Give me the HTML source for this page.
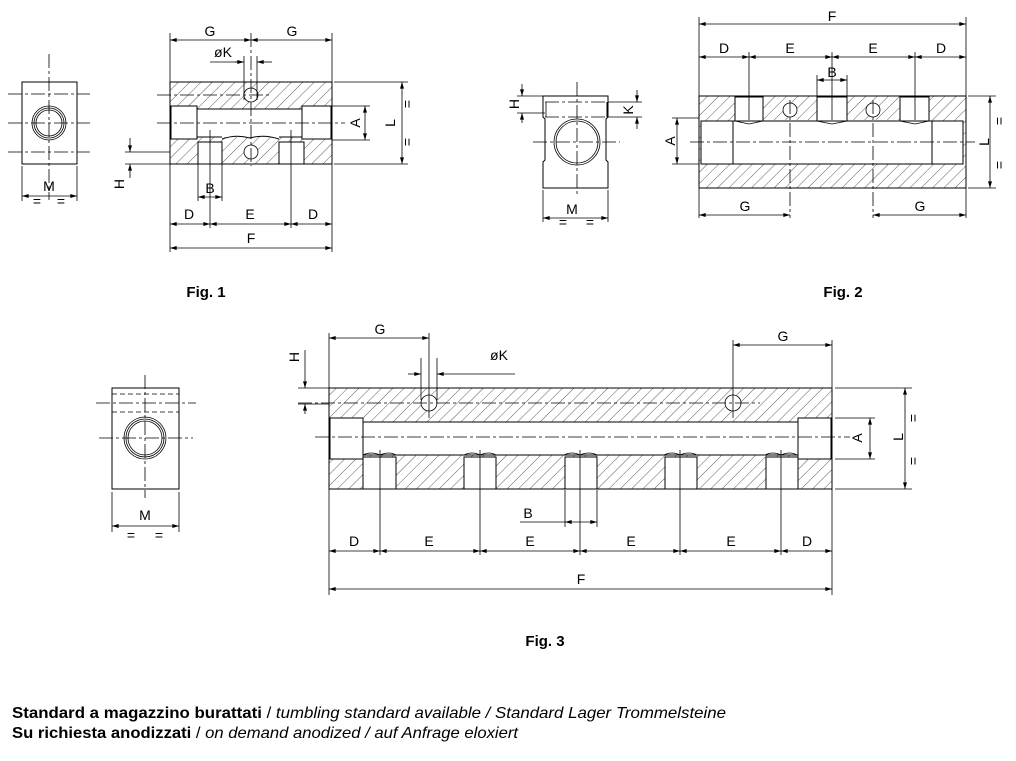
<!DOCTYPE html>
<html><head><meta charset="utf-8"><style>
html,body{margin:0;padding:0;background:#fff;}
svg{display:block;}
.l{stroke:#000;stroke-width:1;fill:none;}
.t{stroke:#000;stroke-width:0.8;fill:none;}
.c{stroke:#000;stroke-width:0.8;fill:none;stroke-dasharray:14 3 3 3;}
.d{stroke:#000;stroke-width:0.8;fill:none;stroke-dasharray:5 3;}
.tx{font-family:"Liberation Sans",sans-serif;font-size:14px;fill:#000;font-weight:300;}
.fg{font-family:"Liberation Sans Narrow","Liberation Sans",sans-serif;font-size:15px;font-weight:bold;fill:#000;}
.bt{font-family:"Liberation Sans Narrow","Liberation Sans",sans-serif;font-size:16px;fill:#000;}
.hf{fill:url(#h);}
.w{fill:#fff;}
</style></head><body>
<svg width="1016" height="761" viewBox="0 0 1016 761" xmlns="http://www.w3.org/2000/svg">
<defs>
<pattern id="h" width="8" height="8" patternUnits="userSpaceOnUse" patternTransform="rotate(45)">
<line x1="0" y1="0" x2="0" y2="8" stroke="#333" stroke-width="0.8"/>
</pattern>
<marker id="a" viewBox="0 0 10 6" refX="10" refY="3" markerWidth="8" markerHeight="4" orient="auto-start-reverse" markerUnits="userSpaceOnUse">
<path d="M0,0 L10,3 L0,6z" fill="#000"/>
</marker>
</defs>

<!-- ================= FIG 1 ================= -->
<rect x="22" y="82" width="55" height="82" class="l"/>
<line x1="49" y1="54" x2="49" y2="200" class="c"/>
<line x1="8" y1="94" x2="90" y2="94" class="c"/>
<line x1="8" y1="123" x2="90" y2="123" class="c"/>
<line x1="8" y1="152" x2="90" y2="152" class="c"/>
<circle cx="49" cy="123" r="17" class="t"/>
<circle cx="49" cy="123" r="15" class="t"/>
<circle cx="49" cy="123" r="13" class="t"/>
<line x1="22" y1="166" x2="22" y2="201" class="t"/>
<line x1="77" y1="166" x2="77" y2="201" class="t"/>
<line x1="22" y1="196" x2="77" y2="196" class="t" marker-start="url(#a)" marker-end="url(#a)"/>
<text x="49" y="191" class="tx" text-anchor="middle">M</text>
<text x="37" y="206" class="tx" text-anchor="middle" font-size="11">=</text>
<text x="61" y="206" class="tx" text-anchor="middle" font-size="11">=</text>

<rect x="170" y="82" width="162" height="82" class="l hf"/>
<rect x="196" y="109" width="108" height="28" class="w"/>
<line x1="196" y1="109" x2="304" y2="109" class="l"/>
<path d="M196,137 L222,137 M279,137 L304,137 M222,139 Q236,134 250,138 Q264,134 279,139" class="l"/>
<rect x="171" y="106" width="26" height="33" class="l w"/>
<rect x="302" y="106" width="29" height="33" class="l w"/>
<rect x="198" y="142" width="24" height="22" class="l w"/>
<rect x="279" y="142" width="25" height="22" class="l w"/>
<circle cx="251" cy="95" r="7" class="t w"/>
<circle cx="251" cy="152" r="7" class="t w"/>
<line x1="157" y1="123" x2="345" y2="123" class="c"/>
<line x1="157" y1="95" x2="270" y2="95" class="c"/>
<line x1="251" y1="33" x2="251" y2="166" class="c"/>
<line x1="170" y1="33" x2="170" y2="252" class="t"/>
<line x1="332" y1="33" x2="332" y2="252" class="t"/>
<line x1="170" y1="40" x2="251" y2="40" class="t" marker-start="url(#a)" marker-end="url(#a)"/>
<line x1="251" y1="40" x2="332" y2="40" class="t" marker-start="url(#a)" marker-end="url(#a)"/>
<text x="210" y="36" class="tx" text-anchor="middle">G</text>
<text x="292" y="36" class="tx" text-anchor="middle">G</text>
<line x1="244" y1="56" x2="244" y2="100" class="t"/>
<line x1="257" y1="56" x2="257" y2="100" class="t"/>
<line x1="210" y1="62" x2="244" y2="62" class="t"/>
<line x1="235" y1="62" x2="244" y2="62" class="t" marker-end="url(#a)"/>
<line x1="272" y1="62" x2="257" y2="62" class="t" marker-end="url(#a)"/>
<text x="223" y="57" class="tx" text-anchor="middle">øK</text>
<line x1="334" y1="82" x2="408" y2="82" class="t"/>
<line x1="334" y1="164" x2="408" y2="164" class="t"/>
<line x1="402" y1="82" x2="402" y2="164" class="t" marker-start="url(#a)" marker-end="url(#a)"/>
<text transform="translate(395,123) rotate(-90)" class="tx" text-anchor="middle">L</text>
<text transform="translate(412,104) rotate(-90)" class="tx" text-anchor="middle" font-size="11">=</text>
<text transform="translate(412,142) rotate(-90)" class="tx" text-anchor="middle" font-size="11">=</text>
<line x1="332" y1="106" x2="370" y2="106" class="t"/>
<line x1="332" y1="140" x2="370" y2="140" class="t"/>
<line x1="365" y1="106" x2="365" y2="140" class="t" marker-start="url(#a)" marker-end="url(#a)"/>
<text transform="translate(360,123) rotate(-90)" class="tx" text-anchor="middle" font-size="12">A</text>
<line x1="125" y1="152" x2="170" y2="152" class="t"/>
<line x1="125" y1="164" x2="170" y2="164" class="t"/>
<line x1="130" y1="138" x2="130" y2="152" class="t" marker-end="url(#a)"/>
<line x1="130" y1="178" x2="130" y2="164" class="t" marker-end="url(#a)"/>
<text transform="translate(124,184) rotate(-90)" class="tx" text-anchor="middle">H</text>
<line x1="198" y1="164" x2="198" y2="201" class="t"/>
<line x1="222" y1="164" x2="222" y2="201" class="t"/>
<line x1="198" y1="197" x2="222" y2="197" class="t" marker-start="url(#a)" marker-end="url(#a)"/>
<text x="210" y="193" class="tx" text-anchor="middle">B</text>
<line x1="210" y1="130" x2="210" y2="228" class="t"/>
<line x1="291" y1="130" x2="291" y2="228" class="t"/>
<line x1="170" y1="224" x2="210" y2="224" class="t" marker-start="url(#a)" marker-end="url(#a)"/>
<line x1="210" y1="224" x2="291" y2="224" class="t" marker-start="url(#a)" marker-end="url(#a)"/>
<line x1="291" y1="224" x2="332" y2="224" class="t" marker-start="url(#a)" marker-end="url(#a)"/>
<text x="189" y="219" class="tx" text-anchor="middle">D</text>
<text x="250" y="219" class="tx" text-anchor="middle">E</text>
<text x="313" y="219" class="tx" text-anchor="middle">D</text>
<line x1="170" y1="248" x2="332" y2="248" class="t" marker-start="url(#a)" marker-end="url(#a)"/>
<text x="251" y="243" class="tx" text-anchor="middle">F</text>
<text x="206" y="297" class="fg" text-anchor="middle">Fig. 1</text>

<!-- ================= FIG 2 ================= -->
<path d="M543,96 L608,96 L608,117 L606,119 L606,160 L608,162 L608,188 L543,188 L543,162 L545,160 L545,119 L543,117 Z" class="l"/>
<line x1="545" y1="102" x2="607" y2="102" class="c"/>
<line x1="545" y1="117" x2="607" y2="117" class="c"/>
<line x1="546" y1="102" x2="546" y2="117" class="t"/>
<line x1="607" y1="102" x2="607" y2="117" class="l"/>
<circle cx="577" cy="142" r="23" class="t"/>
<circle cx="577" cy="142" r="21" class="t"/>
<line x1="577" y1="82" x2="577" y2="196" class="c"/>
<line x1="533" y1="142" x2="620" y2="142" class="c"/>
<line x1="517" y1="96" x2="545" y2="96" class="t"/>
<line x1="517" y1="113" x2="545" y2="113" class="t"/>
<line x1="522" y1="84" x2="522" y2="96" class="t" marker-end="url(#a)"/>
<line x1="522" y1="123" x2="522" y2="113" class="t" marker-end="url(#a)"/>
<text transform="translate(519,104) rotate(-90)" class="tx" text-anchor="middle" font-size="11">H</text>
<line x1="608" y1="102" x2="642" y2="102" class="t"/>
<line x1="608" y1="117" x2="642" y2="117" class="t"/>
<line x1="637" y1="90" x2="637" y2="102" class="t" marker-end="url(#a)"/>
<line x1="637" y1="129" x2="637" y2="117" class="t" marker-end="url(#a)"/>
<text transform="translate(633,110) rotate(-90)" class="tx" text-anchor="middle" font-size="12">K</text>
<line x1="543" y1="190" x2="543" y2="222" class="t"/>
<line x1="608" y1="190" x2="608" y2="222" class="t"/>
<line x1="543" y1="218" x2="608" y2="218" class="t" marker-start="url(#a)" marker-end="url(#a)"/>
<text x="572" y="214" class="tx" text-anchor="middle" font-size="12">M</text>
<text x="563" y="227" class="tx" text-anchor="middle" font-size="11">=</text>
<text x="590" y="227" class="tx" text-anchor="middle" font-size="11">=</text>

<rect x="699" y="96" width="267" height="92" class="l hf"/>
<rect x="733" y="120" width="199" height="44" class="w"/>
<line x1="733" y1="164" x2="932" y2="164" class="l"/>
<path d="M733,121 L735,121 M763,121 L817,121 M847,121 L900,121 M929,121 L932,121" class="l"/>
<path d="M735,121 L749,124 L763,121 M817,121 L832,124 L847,121 M900,121 L915,124 L929,121" class="t"/>
<rect x="701" y="121" width="32" height="43" class="l w"/>
<rect x="932" y="121" width="31" height="43" class="l w"/>
<rect x="735" y="97" width="28" height="24" class="l w"/>
<rect x="817" y="97" width="30" height="24" class="l w"/>
<rect x="900" y="97" width="29" height="24" class="l w"/>
<circle cx="790" cy="110" r="7" class="t w"/>
<circle cx="873" cy="110" r="7" class="t w"/>
<line x1="690" y1="142" x2="975" y2="142" class="c"/>
<line x1="790" y1="100" x2="790" y2="218" class="c"/>
<line x1="873" y1="100" x2="873" y2="218" class="c"/>
<line x1="699" y1="17" x2="699" y2="218" class="t"/>
<line x1="966" y1="17" x2="966" y2="218" class="t"/>
<line x1="699" y1="24" x2="966" y2="24" class="t" marker-start="url(#a)" marker-end="url(#a)"/>
<text x="832" y="21" class="tx" text-anchor="middle" font-size="12">F</text>
<line x1="749" y1="52" x2="749" y2="120" class="t"/>
<line x1="832" y1="52" x2="832" y2="120" class="t"/>
<line x1="915" y1="52" x2="915" y2="120" class="t"/>
<line x1="699" y1="57" x2="749" y2="57" class="t" marker-start="url(#a)" marker-end="url(#a)"/>
<line x1="749" y1="57" x2="832" y2="57" class="t" marker-start="url(#a)" marker-end="url(#a)"/>
<line x1="832" y1="57" x2="915" y2="57" class="t" marker-start="url(#a)" marker-end="url(#a)"/>
<line x1="915" y1="57" x2="966" y2="57" class="t" marker-start="url(#a)" marker-end="url(#a)"/>
<text x="724" y="53" class="tx" text-anchor="middle" font-size="12">D</text>
<text x="790" y="53" class="tx" text-anchor="middle" font-size="12">E</text>
<text x="873" y="53" class="tx" text-anchor="middle" font-size="12">E</text>
<text x="941" y="53" class="tx" text-anchor="middle" font-size="12">D</text>
<line x1="817" y1="75" x2="817" y2="97" class="t"/>
<line x1="847" y1="75" x2="847" y2="97" class="t"/>
<line x1="817" y1="80" x2="847" y2="80" class="t" marker-start="url(#a)" marker-end="url(#a)"/>
<text x="832" y="77" class="tx" text-anchor="middle" font-size="11">B</text>
<line x1="672" y1="118" x2="699" y2="118" class="t"/>
<line x1="672" y1="164" x2="699" y2="164" class="t"/>
<line x1="677" y1="118" x2="677" y2="164" class="t" marker-start="url(#a)" marker-end="url(#a)"/>
<text transform="translate(675,141) rotate(-90)" class="tx" text-anchor="middle" font-size="11">A</text>
<line x1="968" y1="96" x2="996" y2="96" class="t"/>
<line x1="968" y1="188" x2="996" y2="188" class="t"/>
<line x1="990" y1="96" x2="990" y2="188" class="t" marker-start="url(#a)" marker-end="url(#a)"/>
<text transform="translate(989,142) rotate(-90)" class="tx" text-anchor="middle" font-size="12">L</text>
<text transform="translate(1004,121) rotate(-90)" class="tx" text-anchor="middle" font-size="11">=</text>
<text transform="translate(1004,165) rotate(-90)" class="tx" text-anchor="middle" font-size="11">=</text>
<line x1="699" y1="215" x2="790" y2="215" class="t" marker-start="url(#a)" marker-end="url(#a)"/>
<line x1="873" y1="215" x2="966" y2="215" class="t" marker-start="url(#a)" marker-end="url(#a)"/>
<text x="745" y="211" class="tx" text-anchor="middle" font-size="11">G</text>
<text x="920" y="211" class="tx" text-anchor="middle" font-size="11">G</text>
<text x="843" y="297" class="fg" text-anchor="middle">Fig. 2</text>

<!-- ================= FIG 3 ================= -->
<rect x="112" y="388" width="67" height="101" class="l"/>
<line x1="112" y1="394" x2="179" y2="394" class="d"/>
<line x1="112" y1="412" x2="179" y2="412" class="d"/>
<line x1="96" y1="403" x2="196" y2="403" class="c"/>
<line x1="145" y1="375" x2="145" y2="498" class="c"/>
<line x1="99" y1="438" x2="193" y2="438" class="c"/>
<circle cx="145" cy="438" r="21" class="t"/>
<circle cx="145" cy="438" r="19" class="t"/>
<circle cx="145" cy="438" r="17" class="t"/>
<line x1="112" y1="492" x2="112" y2="532" class="t"/>
<line x1="179" y1="492" x2="179" y2="532" class="t"/>
<line x1="112" y1="526" x2="179" y2="526" class="t" marker-start="url(#a)" marker-end="url(#a)"/>
<text x="145" y="520" class="tx" text-anchor="middle">M</text>
<text x="131" y="540" class="tx" text-anchor="middle" font-size="12">=</text>
<text x="159" y="540" class="tx" text-anchor="middle" font-size="12">=</text>

<rect x="329" y="388" width="503" height="101" class="l hf"/>
<rect x="363" y="422" width="436" height="33" class="w"/>
<line x1="363" y1="422" x2="799" y2="422" class="l"/>
<line x1="363" y1="455" x2="799" y2="455" class="l"/>
<path d="M363,455 Q371,451 380,455 Q389,451 396,455 M464,455 Q472,451 480,455 Q489,451 496,455 M564,455 Q572,451 580,455 Q589,451 597,455 M664,455 Q672,451 680,455 Q689,451 697,455 M765,455 Q773,451 781,455 Q790,451 797,455" class="t"/>
<rect x="330" y="418" width="33" height="41" class="l w"/>
<rect x="798" y="418" width="33" height="41" class="l w"/>
<rect x="363" y="457" width="33" height="32" class="l w"/>
<rect x="464" y="457" width="32" height="32" class="l w"/>
<rect x="565" y="457" width="32" height="32" class="l w"/>
<rect x="665" y="457" width="32" height="32" class="l w"/>
<rect x="766" y="457" width="32" height="32" class="l w"/>
<circle cx="429" cy="403" r="8" class="t w"/>
<circle cx="733" cy="403" r="8" class="t w"/>
<line x1="298" y1="403" x2="760" y2="403" class="c"/>
<line x1="315" y1="437" x2="850" y2="437" class="c"/>
<line x1="329" y1="333" x2="329" y2="595" class="t"/>
<line x1="832" y1="340" x2="832" y2="595" class="t"/>
<line x1="429" y1="333" x2="429" y2="418" class="t"/>
<line x1="733" y1="340" x2="733" y2="418" class="t"/>
<line x1="329" y1="338" x2="429" y2="338" class="t" marker-start="url(#a)" marker-end="url(#a)"/>
<line x1="733" y1="345" x2="832" y2="345" class="t" marker-start="url(#a)" marker-end="url(#a)"/>
<text x="380" y="334" class="tx" text-anchor="middle">G</text>
<text x="783" y="341" class="tx" text-anchor="middle">G</text>
<line x1="421" y1="358" x2="421" y2="400" class="t"/>
<line x1="437" y1="358" x2="437" y2="400" class="t"/>
<line x1="408" y1="374" x2="421" y2="374" class="t" marker-end="url(#a)"/>
<line x1="515" y1="374" x2="437" y2="374" class="t" marker-end="url(#a)"/>
<text x="499" y="360" class="tx" text-anchor="middle">øK</text>
<line x1="298" y1="388" x2="329" y2="388" class="t"/>
<line x1="298" y1="404" x2="329" y2="404" class="t"/>
<line x1="305" y1="350" x2="305" y2="388" class="t" marker-end="url(#a)"/>
<line x1="305" y1="414" x2="305" y2="404" class="t" marker-end="url(#a)"/>
<text transform="translate(299,357) rotate(-90)" class="tx" text-anchor="middle">H</text>
<line x1="835" y1="388" x2="912" y2="388" class="t"/>
<line x1="835" y1="489" x2="912" y2="489" class="t"/>
<line x1="905" y1="388" x2="905" y2="489" class="t" marker-start="url(#a)" marker-end="url(#a)"/>
<text transform="translate(903,437) rotate(-90)" class="tx" text-anchor="middle">L</text>
<text transform="translate(918,418) rotate(-90)" class="tx" text-anchor="middle" font-size="12">=</text>
<text transform="translate(918,461) rotate(-90)" class="tx" text-anchor="middle" font-size="12">=</text>
<line x1="835" y1="418" x2="875" y2="418" class="t"/>
<line x1="835" y1="459" x2="875" y2="459" class="t"/>
<line x1="870" y1="418" x2="870" y2="459" class="t" marker-start="url(#a)" marker-end="url(#a)"/>
<text transform="translate(862,438) rotate(-90)" class="tx" text-anchor="middle" font-size="12">A</text>
<line x1="565" y1="490" x2="565" y2="527" class="t"/>
<line x1="597" y1="490" x2="597" y2="527" class="t"/>
<line x1="520" y1="522" x2="565" y2="522" class="t"/>
<line x1="565" y1="522" x2="597" y2="522" class="t" marker-start="url(#a)" marker-end="url(#a)"/>
<text x="528" y="518" class="tx" text-anchor="middle">B</text>
<line x1="380" y1="450" x2="380" y2="555" class="t"/>
<line x1="480" y1="450" x2="480" y2="555" class="t"/>
<line x1="580" y1="450" x2="580" y2="555" class="t"/>
<line x1="680" y1="450" x2="680" y2="555" class="t"/>
<line x1="781" y1="450" x2="781" y2="555" class="t"/>
<line x1="329" y1="551" x2="380" y2="551" class="t" marker-start="url(#a)" marker-end="url(#a)"/>
<line x1="380" y1="551" x2="480" y2="551" class="t" marker-start="url(#a)" marker-end="url(#a)"/>
<line x1="480" y1="551" x2="580" y2="551" class="t" marker-start="url(#a)" marker-end="url(#a)"/>
<line x1="580" y1="551" x2="680" y2="551" class="t" marker-start="url(#a)" marker-end="url(#a)"/>
<line x1="680" y1="551" x2="781" y2="551" class="t" marker-start="url(#a)" marker-end="url(#a)"/>
<line x1="781" y1="551" x2="832" y2="551" class="t" marker-start="url(#a)" marker-end="url(#a)"/>
<text x="354" y="546" class="tx" text-anchor="middle">D</text>
<text x="429" y="546" class="tx" text-anchor="middle">E</text>
<text x="530" y="546" class="tx" text-anchor="middle">E</text>
<text x="631" y="546" class="tx" text-anchor="middle">E</text>
<text x="731" y="546" class="tx" text-anchor="middle">E</text>
<text x="807" y="546" class="tx" text-anchor="middle">D</text>
<line x1="329" y1="589" x2="832" y2="589" class="t" marker-start="url(#a)" marker-end="url(#a)"/>
<text x="581" y="584" class="tx" text-anchor="middle">F</text>
<text x="545" y="646" class="fg" text-anchor="middle">Fig. 3</text>

<text x="12" y="718" class="bt" textLength="714" lengthAdjust="spacingAndGlyphs"><tspan font-weight="bold">Standard a magazzino burattati</tspan> / <tspan font-style="italic">tumbling standard available / Standard Lager Trommelsteine</tspan></text>
<text x="12" y="738" class="bt" textLength="506" lengthAdjust="spacingAndGlyphs"><tspan font-weight="bold">Su richiesta anodizzati</tspan> / <tspan font-style="italic">on demand anodized / auf Anfrage eloxiert</tspan></text>
</svg>
</body></html>
